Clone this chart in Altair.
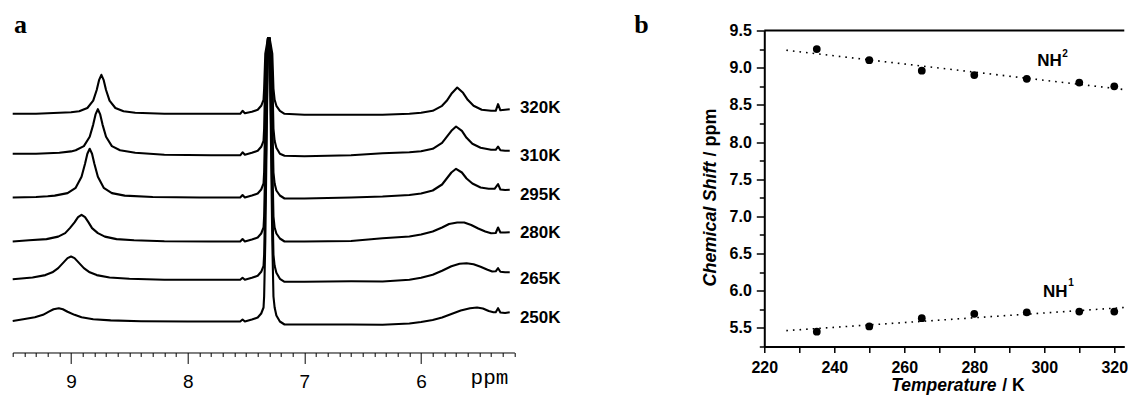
import altair as alt
import pandas as pd

# ---------------- panel a : stacked 1H NMR spectra ----------------
TEMPS = ["320K", "310K", "295K", "280K", "265K", "250K"]
OFFSETS = [238.7, 198.7, 155.0, 111.0, 72.7, 31.0]          # baseline of each trace
LABEL_Y = [244.3, 197.0, 158.0, 119.3, 73.0, 34.3]          # trace label heights

CHCL3_PPM = [7.45, 7.40, 7.37, 7.35, 7.345, 7.335, 7.312, 7.298, 7.275, 7.265, 7.255, 7.24, 7.21, 7.17]

PPM_320 = [9.50, 9.30, 9.10, 9.00, 8.93, 8.86, 8.81, 8.78, 8.76, 8.74, 8.72, 8.70, 8.67, 8.62, 8.55, 8.45,
           8.20, 7.80, 7.55, 7.53, 7.51] + CHCL3_PPM + [
           7.00, 6.60, 6.33, 6.10, 6.00, 5.90, 5.82, 5.78, 5.74, 5.69, 5.64, 5.60, 5.55, 5.48, 5.40, 5.36,
           5.34, 5.32, 5.28, 5.24]
INT_320 = [0, 0, 1, 1.5, 2.5, 5.8, 13.2, 23.8, 33.6, 39, 33.6, 23.8, 13.2, 5.8, 2.5, 1,
           0, 0, 0, 3, 0.5] + [2, 4, 8, 14, 25, 60, 75.6, 75.6, 60, 25, 14, 8, 3, 0] + [
           -1, -1, -1, 0, 1, 3, 8, 13, 20, 26.3, 21, 14, 8, 4, 3, 3,
           9.6, 3.5, 4, 4.6]

PPM_310 = [9.50, 9.30, 9.10, 9.00, 8.96, 8.89, 8.84, 8.81, 8.79, 8.77, 8.75, 8.73, 8.70, 8.65, 8.58, 8.45,
           8.20, 7.80, 7.55, 7.53, 7.51] + CHCL3_PPM + [
           7.00, 6.60, 6.33, 6.10, 6.00, 5.90, 5.82, 5.78, 5.74, 5.70, 5.65, 5.61, 5.56, 5.49, 5.40, 5.36,
           5.34, 5.32, 5.28, 5.24]
INT_310 = [0, 0, 1, 2.4, 3.5, 7.7, 17, 29.2, 39.4, 44.6, 39.4, 29.2, 17, 7.7, 3.5, 1,
           -1, -1.5, -1.5, 1.5, -1] + [1, 3, 7, 13, 25, 80, 115.6, 115.6, 80, 25, 13, 6, 0, -2] + [
           -2.5, -1.5, 0.6, 1.5, 2.5, 5, 11, 17, 23, 27.3, 23, 16, 10, 6, 4, 4,
           7.3, 3.5, 3, 3]

PPM_295 = [9.50, 9.30, 9.20, 9.14, 9.03, 8.96, 8.91, 8.88, 8.86, 8.84, 8.82, 8.80, 8.77, 8.72, 8.65, 8.54,
           8.30, 7.90, 7.55, 7.53, 7.51] + CHCL3_PPM + [
           7.00, 6.60, 6.33, 6.10, 6.00, 5.90, 5.82, 5.78, 5.74, 5.70, 5.65, 5.61, 5.56, 5.49, 5.42, 5.37,
           5.34, 5.32, 5.28, 5.24]
INT_295 = [0, 0.5, 1.2, 1.9, 4.4, 9.7, 20.8, 33.7, 43.8, 48.7, 43.8, 33.7, 20.8, 9.7, 4.4, 1.9,
           0.5, 0, 0, 2.5, 0] + [2, 4, 8, 14, 25, 80, 159.3, 159.3, 80, 25, 14, 7, 2, -1] + [
           -1, 0, 1, 2.5, 4, 7, 13, 19, 25, 28.7, 25, 19, 14, 10, 8.7, 8.7,
           13.3, 8, 7.5, 7.7]

PPM_280 = [9.50, 9.36, 9.21, 9.11, 9.05, 9.01, 8.97, 8.94, 8.91, 8.88, 8.85, 8.82, 8.77, 8.71, 8.61, 8.46,
           8.20, 7.80, 7.55, 7.53, 7.51] + CHCL3_PPM + [
           7.00, 6.60, 6.33, 6.10, 6.00, 5.90, 5.82, 5.76, 5.69, 5.63, 5.57, 5.51, 5.45, 5.40, 5.36,
           5.34, 5.32, 5.28, 5.24]
INT_280 = [0, 1.2, 2.4, 4.9, 8.4, 13.4, 19.1, 24.3, 26.7, 24.3, 19.1, 13.4, 8.4, 4.9, 2.4, 1.2,
           0.3, 0, 0, 2.5, 0] + [2, 4, 8, 14, 25, 80, 203.3, 203.3, 80, 25, 14, 8, 3, 0] + [
           0, 0.5, 3.3, 5, 7, 10, 14, 17.5, 19, 19, 16.5, 13, 10, 8.3, 8.5,
           14, 9, 9, 9.3]

PPM_265 = [9.50, 9.33, 9.22, 9.16, 9.11, 9.06, 9.03, 9.00, 8.97, 8.94, 8.89, 8.84, 8.78, 8.67, 8.50,
           8.20, 7.80, 7.55, 7.53, 7.51] + CHCL3_PPM + [
           7.00, 6.60, 6.33, 6.10, 6.00, 5.90, 5.82, 5.74, 5.67, 5.61, 5.55, 5.49, 5.43, 5.39, 5.36,
           5.34, 5.32, 5.28, 5.24]
INT_265 = [0.5, 2.3, 4.7, 7.5, 11.7, 17.9, 21.7, 23.3, 21.7, 17.9, 11.7, 7.5, 4.7, 2.3, 1,
           0, 0, 0, 2, 0] + [2, 4, 8, 14, 25, 80, 241.6, 241.6, 80, 25, 14, 7, 1, -2] + [
           -2, -1.5, -1.7, 0, 2, 5, 9, 13.5, 16, 16.6, 15.5, 13, 10, 8.3, 8.5,
           11.6, 8, 7.5, 7.6]

PPM_250 = [9.50, 9.41, 9.31, 9.24, 9.19, 9.15, 9.105, 9.07, 9.03, 8.97, 8.91, 8.81, 8.66, 8.40,
           8.00, 7.55, 7.53, 7.51] + CHCL3_PPM + [
           7.00, 6.60, 6.33, 6.10, 6.00, 5.90, 5.82, 5.74, 5.66, 5.58, 5.52, 5.47, 5.42, 5.38, 5.36,
           5.34, 5.32, 5.28, 5.24]
INT_250 = [0.5, 2.2, 4.2, 6.65, 9.8, 12.2, 13.3, 12.2, 9.8, 6.65, 4.2, 2.2, 1.1, 0.3,
           0, 0, 2, 0] + [2, 4, 8, 14, 25, 80, 283.3, 283.3, 80, 25, 14, 6, 0, -3] + [
           -3, -3, -3.3, -2, -0.5, 1.5, 4, 7.5, 11, 13.3, 14, 13, 10.5, 9.3, 9.3,
           13.3, 9, 8.5, 9.3]

PPM_LISTS = [PPM_320, PPM_310, PPM_295, PPM_280, PPM_265, PPM_250]
INT_LISTS = [INT_320, INT_310, INT_295, INT_280, INT_265, INT_250]

rows = []
for name, off, pl, il in zip(TEMPS, OFFSETS, PPM_LISTS, INT_LISTS):
    assert len(pl) == len(il), name
    for p, v in zip(pl, il):
        rows.append({"trace": name, "ppm": p, "y": off + v})
spec_df = pd.DataFrame(rows)

PPM_TICKS = [round(5.2 + 0.1 * i, 1) for i in range(44)]

X_A = alt.X("ppm:Q",
            scale=alt.Scale(domain=[5.2, 9.5], reverse=True, nice=False, zero=False),
            axis=alt.Axis(values=PPM_TICKS, title=None, grid=False,
                          labelExpr="abs(datum.value - round(datum.value)) < 0.01 ? format(datum.value, 'd') : ''",
                          tickSize={"condition": {"test": "abs(datum.value - round(datum.value)) < 0.01", "value": 11}, "value": 4},
                          tickColor="black", tickWidth=1, domainColor="black", domainWidth=1,
                          labelFont="Liberation Sans", labelFontSize=19, labelColor="black",
                          labelPadding=9, labelOverlap=False, labelFlush=False))
Y_A = alt.Y("y:Q", scale=alt.Scale(domain=[0, 322], nice=False, zero=False), axis=None)

spectra = alt.Chart(spec_df).mark_line(color="black", strokeWidth=2.1, strokeJoin="round").encode(
    x=X_A, y=Y_A, detail="trace:N")

lab_df = pd.DataFrame({"ppm": [5.153] * len(TEMPS), "y": LABEL_Y, "label": TEMPS})
temp_labels = alt.Chart(lab_df).mark_text(align="left", baseline="middle", font="Liberation Sans",
                                          fontWeight="bold", fontSize=17, color="black").encode(
    x=X_A, y=Y_A, text="label:N")

ppm_df = pd.DataFrame({"ppm": [5.414], "y": [-32.0], "label": ["ppm"]})
ppm_label = alt.Chart(ppm_df).mark_text(align="center", baseline="alphabetic", font="Liberation Mono",
                                        fontSize=21, color="black").encode(x=X_A, y=Y_A, text="label:N")

a_df = pd.DataFrame({"ppm": [9.489], "y": [320.0], "label": ["a"]})
a_label = alt.Chart(a_df).mark_text(align="left", baseline="alphabetic", font="Liberation Serif",
                                    fontWeight="bold", fontSize=26, color="black").encode(
    x=X_A, y=Y_A, text="label:N")

panel_a = alt.layer(spectra, temp_labels, ppm_label, a_label).properties(width=501.7, height=322)

# ---------------- panel b : chemical shift vs temperature ----------------
TEMPERATURE = [235, 250, 265, 280, 295, 310, 320]
NH2_SHIFT = [9.25, 9.10, 8.96, 8.90, 8.85, 8.80, 8.75]
NH1_SHIFT = [5.45, 5.52, 5.63, 5.69, 5.71, 5.72, 5.72]

pts_df = pd.DataFrame({
    "T": TEMPERATURE * 2,
    "shift": NH2_SHIFT + NH1_SHIFT,
    "series": ["NH2"] * len(TEMPERATURE) + ["NH1"] * len(TEMPERATURE),
})

T_TICKS = [220, 230, 240, 250, 260, 270, 280, 290, 300, 310, 320]
S_TICKS = [5.25 + 0.25 * i for i in range(18)]
T_MAX = 322.86

X_B = alt.X("T:Q", scale=alt.Scale(domain=[220, T_MAX], nice=False, zero=False),
            axis=alt.Axis(values=T_TICKS, title=None, grid=False,
                          labelExpr="datum.value % 20 == 0 ? datum.label : ''",
                          tickSize=6, tickWidth=1.5, tickColor="black",
                          domainColor="black", domainWidth=2,
                          labelFont="Liberation Sans", labelFontWeight="bold", labelFontSize=16,
                          labelColor="black", labelPadding=7, labelOverlap=False, labelFlush=False))
Y_B = alt.Y("shift:Q", scale=alt.Scale(domain=[5.25, 9.5], nice=False, zero=False),
            axis=alt.Axis(values=S_TICKS, title=None, grid=False,
                          labelExpr="abs(datum.value * 2 - round(datum.value * 2)) < 0.01 ? format(datum.value, '.1f') : ''",
                          tickSize={"condition": {"test": "abs(datum.value * 2 - round(datum.value * 2)) < 0.01", "value": 8}, "value": 5},
                          tickWidth=1.5, tickColor="black", domainColor="black", domainWidth=2,
                          labelFont="Liberation Sans", labelFontWeight="bold", labelFontSize=16,
                          labelColor="black", labelPadding=5, labelOverlap=False, labelFlush=False))

fit = alt.Chart(pts_df).transform_regression(
    "T", "shift", groupby=["series"], extent=[226.3, 335]
).mark_line(color="black", strokeWidth=1.6, strokeDash=[1.6, 5], clip=True).encode(
    x=X_B, y=Y_B, detail="series:N")

points = alt.Chart(pts_df).mark_circle(size=60, color="black", opacity=1).encode(x=X_B, y=Y_B)

top_df = pd.DataFrame({"T": [220.0], "T2": [T_MAX], "shift": [9.5]})
top_line = alt.Chart(top_df).mark_rule(color="black", strokeWidth=2).encode(
    x=X_B, x2="T2:Q", y=Y_B)

def txt(df, **kw):
    base = dict(color="black", font="Liberation Sans", fontWeight="bold")
    base.update(kw)
    return alt.Chart(df).mark_text(**base).encode(x=X_B, y=Y_B, text="label:N")

nh_df = pd.DataFrame({"T": [298.0, 299.63], "shift": [9.029, 5.922], "label": ["NH", "NH"]})
sup_df = pd.DataFrame({"T": [305.14, 306.86], "shift": [9.15, 6.057], "label": ["2", "1"]})
b_df = pd.DataFrame({"T": [182.86], "shift": [9.46], "label": ["b"]})
ytitle1_df = pd.DataFrame({"T": [204.86], "shift": [6.057], "label": ["Chemical Shift"]})
ytitle2_df = pd.DataFrame({"T": [204.86], "shift": [7.805], "label": ["/ ppm"]})
xtitle1_df = pd.DataFrame({"T": [256.29], "shift": [4.65], "label": ["Temperature"]})
xtitle2_df = pd.DataFrame({"T": [288.0], "shift": [4.65], "label": ["/ K"]})

nh_text = txt(nh_df, align="left", baseline="alphabetic", fontSize=17)
sup_text = txt(sup_df, align="left", baseline="alphabetic", fontSize=10)
b_text = txt(b_df, align="left", baseline="alphabetic", fontSize=26, font="Liberation Serif")
yt1 = txt(ytitle1_df, align="left", baseline="middle", fontSize=18, angle=270, fontStyle="italic")
yt2 = txt(ytitle2_df, align="left", baseline="middle", fontSize=18, angle=270)
xt1 = txt(xtitle1_df, align="left", baseline="alphabetic", fontSize=17.5, fontStyle="italic")
xt2 = txt(xtitle2_df, align="left", baseline="alphabetic", fontSize=17.5)

panel_b = alt.layer(top_line, fit, points, nh_text, sup_text, b_text, yt1, yt2, xt1, xt2).properties(
    width=360, height=316)

chart = alt.hconcat(panel_a, panel_b, spacing=249.6, bounds="flush").configure_view(
    stroke=None
).properties(
    padding={"left": 2.7, "top": 3.5, "right": 0, "bottom": 0},
    background="white",
)

chart.save("out.html", embed_options={"renderer": "svg", "actions": False})
